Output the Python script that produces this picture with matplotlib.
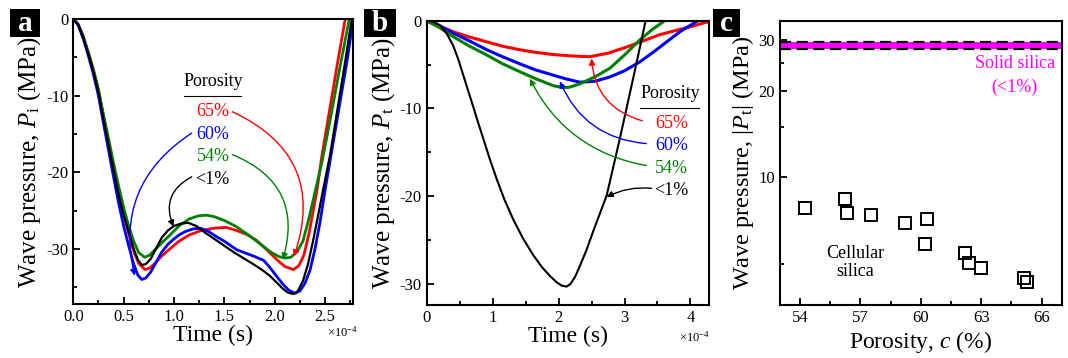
import numpy as np
import matplotlib
matplotlib.use("Agg")
import matplotlib.pyplot as plt
from matplotlib.patches import Rectangle
from matplotlib.ticker import MultipleLocator, FixedLocator, NullFormatter

plt.rcParams['font.family'] = ['Liberation Serif', 'DejaVu Serif']
plt.rcParams['mathtext.fontset'] = 'custom'
plt.rcParams['mathtext.rm'] = 'Liberation Serif'
plt.rcParams['mathtext.it'] = 'Liberation Serif:italic'
plt.rcParams['axes.linewidth'] = 1.5
plt.rcParams['axes.unicode_minus'] = False

# ---- panel a: incident wave pressure (time in 1e-4 s, pressure in MPa)
ta_black = [0, 0.05, 0.10, 0.15, 0.20, 0.25, 0.30, 0.35, 0.40, 0.45, 0.50, 0.55, 0.60, 0.64, 0.68, 0.72, 0.77,
            0.82, 0.88, 0.94, 1.00, 1.07, 1.14, 1.22, 1.30, 1.40, 1.50, 1.60, 1.70, 1.80, 1.88, 1.95, 2.02, 2.08,
            2.13, 2.185, 2.23, 2.28, 2.33, 2.38, 2.43, 2.48, 2.55, 2.62, 2.70, 2.765]
pa_black = [0, -0.8, -2.5, -4.6, -6.9, -9.6, -13.1, -16.4, -19.7, -22.9, -25.6, -27.8, -30.0, -31.4, -32.1,
            -32.0, -31.3, -30.0, -28.5, -27.6, -27.0, -26.7, -26.6, -27.0, -27.8, -28.7, -29.6, -30.5, -31.3,
            -32.1, -32.8, -33.5, -34.4, -35.2, -35.7, -35.9, -35.5, -34.2, -32.0, -29.0, -25.7, -22.3, -17.7,
            -12.0, -5.5, 0]

ta_blue = [0, 0.05, 0.10, 0.15, 0.20, 0.25, 0.30, 0.35, 0.40, 0.45, 0.50, 0.55, 0.60, 0.64, 0.68, 0.72, 0.77,
           0.82, 0.88, 0.94, 1.00, 1.06, 1.12, 1.19, 1.26, 1.34, 1.42, 1.50, 1.62, 1.72, 1.80, 1.89, 1.95, 2.02,
           2.08, 2.14, 2.20, 2.25, 2.30, 2.35, 2.40, 2.45, 2.50, 2.56, 2.64, 2.72, 2.78]
pa_blue = [0, -0.8, -2.6, -4.8, -7.2, -10.0, -13.6, -17.1, -20.6, -24.0, -27.0, -29.6, -32.0, -33.4, -34.0,
           -33.8, -33.0, -31.8, -30.4, -29.4, -28.7, -28.1, -27.7, -27.4, -27.3, -27.7, -28.4, -29.0, -30.1,
           -30.6, -31.0, -31.5, -32.4, -33.6, -34.6, -35.4, -35.8, -35.5, -34.5, -32.8, -30.0, -26.5, -22.3,
           -17.7, -11.5, -5.3, 0]

ta_red = [0, 0.05, 0.10, 0.15, 0.20, 0.25, 0.30, 0.35, 0.40, 0.45, 0.50, 0.55, 0.60, 0.65, 0.71, 0.76, 0.82,
          0.88, 0.96, 1.05, 1.15, 1.27, 1.40, 1.52, 1.62, 1.72, 1.82, 1.92, 2.02, 2.10, 2.185, 2.24, 2.29, 2.34,
          2.38, 2.42, 2.47, 2.55, 2.62, 2.70]
pa_red = [0, -0.7, -2.3, -4.4, -6.6, -9.3, -12.7, -16.0, -19.3, -22.5, -25.4, -28.0, -30.3, -31.9, -32.7,
          -32.5, -31.8, -30.9, -30.0, -29.0, -28.2, -27.6, -27.3, -27.2, -27.6, -28.1, -28.9, -30.1, -31.4,
          -32.3, -32.7, -32.2, -30.8, -28.0, -25.2, -22.3, -17.7, -11.5, -6.0, 0]

ta_green = [0, 0.05, 0.10, 0.15, 0.20, 0.25, 0.30, 0.35, 0.40, 0.45, 0.50, 0.55, 0.60, 0.65, 0.71, 0.76, 0.82,
            0.88, 0.96, 1.05, 1.15, 1.24, 1.32, 1.40, 1.50, 1.62, 1.75, 1.89, 1.97, 2.04, 2.10, 2.16, 2.22, 2.28,
            2.34, 2.40, 2.47, 2.55, 2.64, 2.74]
pa_green = [0, -0.7, -2.3, -4.4, -6.6, -9.2, -12.5, -15.6, -18.8, -21.8, -24.6, -27.0, -29.0, -30.5, -31.1,
            -30.8, -30.0, -29.2, -28.2, -27.0, -26.1, -25.7, -25.6, -25.8, -26.3, -27.1, -28.3, -29.7, -30.5,
            -31.0, -31.2, -31.1, -30.4, -29.0, -26.0, -22.6, -18.6, -13.2, -6.8, 0]

# ---- panel b: transmitted wave pressure
tb_black = [0, 0.10, 0.20, 0.30, 0.40, 0.48, 0.555, 0.63, 0.706, 0.78, 0.857, 0.95, 1.06, 1.18, 1.31, 1.46,
            1.615, 1.75, 1.87, 1.97, 2.05, 2.12, 2.18, 2.25, 2.32, 2.42, 2.52, 2.62, 2.73, 2.93, 3.13, 3.32]
pb_black = [0, -0.1, -0.5, -1.4, -2.8, -4.4, -6.2, -8.0, -9.8, -11.6, -13.4, -15.6, -18.0, -20.4, -22.6,
            -24.8, -26.7, -28.1, -29.1, -29.8, -30.2, -30.3, -30.0, -29.2, -28.0, -26.2, -24.1, -22.1, -19.9,
            -13.4, -6.6, 0]

tb_red = [0, 0.20, 0.40, 0.65, 0.91, 1.15, 1.41, 1.65, 1.92, 2.17, 2.47, 2.75, 3.03, 3.28, 3.53, 3.78, 4.04, 4.27]
pb_red = [0, -0.6, -1.25, -1.85, -2.4, -2.9, -3.3, -3.6, -3.85, -4.0, -4.1, -3.7, -3.0, -2.3, -1.6, -1.1,
          -0.6, -0.1]

tb_blue = [0, 0.20, 0.40, 0.65, 0.91, 1.15, 1.41, 1.65, 1.92, 2.10, 2.32, 2.55, 2.78, 3.00, 3.23, 3.45, 3.64,
           3.85, 4.09]
pb_blue = [0, -0.6, -1.4, -2.3, -3.3, -4.1, -4.9, -5.6, -6.2, -6.6, -7.0, -6.9, -6.4, -5.7, -4.7, -3.5, -2.4,
           -1.2, -0.1]

tb_green = [0, 0.20, 0.40, 0.65, 0.91, 1.15, 1.41, 1.65, 1.92, 2.05, 2.15, 2.32, 2.55, 2.78, 3.00, 3.23, 3.42,
            3.59]
pb_green = [0, -0.8, -1.8, -2.9, -3.9, -4.9, -5.8, -6.6, -7.4, -7.6, -7.6, -7.2, -6.4, -5.4, -3.9, -2.2, -1.0,
            -0.1]

# ---- panel c: peak transmitted pressure vs porosity
porosity = [54.23, 56.24, 56.34, 57.52, 59.22, 60.32, 60.22, 62.2, 62.39, 62.97, 65.13, 65.29]
peak_pt = [7.81, 8.41, 7.5, 7.39, 6.95, 7.18, 5.87, 5.45, 5.03, 4.83, 4.46, 4.34]
solid_band = [28.0, 29.5]

labels = ['65%', '60%', '54%', '<1%']
colors = ['red', 'blue', 'green', 'black']

fig = plt.figure(figsize=(10.68, 3.58), dpi=100)
ax_a = fig.add_axes([0.0686, 0.1508, 0.2622, 0.796])
ax_b = fig.add_axes([0.3995, 0.148, 0.2643, 0.794])
ax_c = fig.add_axes([0.7303, 0.148, 0.2638, 0.794])

for t, p, c in [(ta_red, pa_red, 'red'), (ta_green, pa_green, 'green'),
                (ta_blue, pa_blue, 'blue'), (ta_black, pa_black, 'black')]:
    ax_a.plot(t, p, color=c, lw=2.0 if c != 'black' else 1.6)

for t, p, c in [(tb_red, pb_red, 'red'), (tb_blue, pb_blue, 'blue'),
                (tb_green, pb_green, 'green'), (tb_black, pb_black, 'black')]:
    ax_b.plot(t, p, color=c, lw=2.2 if c != 'black' else 1.5)


def style_time_axis(ax, xmax, major, minor, ymin, fmt):
    ax.set_xlim(0, xmax)
    ax.set_ylim(ymin, 0)
    ax.xaxis.set_major_locator(MultipleLocator(major))
    ax.xaxis.set_minor_locator(MultipleLocator(minor))
    ax.xaxis.set_major_formatter(plt.FuncFormatter(lambda v, pos: fmt.format(v)))
    ax.yaxis.set_major_locator(MultipleLocator(10))
    ax.yaxis.set_minor_locator(MultipleLocator(5))
    ax.tick_params(which='both', direction='in', top=False, right=False, labelsize=12, width=1.3)
    ax.tick_params(which='major', length=5)
    ax.tick_params(which='minor', length=3)
    ax.set_xlabel('Time (s)', fontsize=17, labelpad=0)


style_time_axis(ax_a, 2.78, 0.5, 0.25, -37.2, '{:.1f}')
style_time_axis(ax_b, 4.28, 1, 0.5, -32.4, '{:.0f}')
ax_a.text(0.96, -0.1, r'$\times$10$^{-4}$', transform=ax_a.transAxes, fontsize=9, ha='center', va='center')
ax_b.text(0.95, -0.115, r'$\times$10$^{-4}$', transform=ax_b.transAxes, fontsize=9, ha='center', va='center')
ax_a.set_ylabel(r'Wave pressure, $P_{\rm i}$ (MPa)', fontsize=18, labelpad=2)
ax_b.set_ylabel(r'Wave pressure, $P_{\rm t}$ (MPa)', fontsize=18, labelpad=2)

# annotations panel a
ax_a.text(1.39, -9.3, 'Porosity', fontsize=13, ha='center', va='bottom')
ax_a.plot([1.10, 1.67], [-10.1, -10.1], color='black', lw=0.8)
a_text_y = [-12.1, -15.1, -17.9, -20.9]
a_targets = [(2.19, -31.0), (0.61, -33.5), (2.08, -31.4), (0.995, -27.1)]
a_starts = [(1.58, -12.1), (1.175, -14.9), (1.58, -17.7), (1.175, -20.6)]
a_rads = [-0.45, 0.35, -0.45, 0.45]
for lab, c, ty, tgt, st, rad in zip(labels, colors, a_text_y, a_targets, a_starts, a_rads):
    ax_a.text(1.55, ty, lab, color=c, fontsize=13, ha='right', va='center')
    ax_a.annotate('', xy=tgt, xytext=st,
                  arrowprops=dict(arrowstyle='-|>', color=c, lw=1.0, mutation_scale=9,
                                  shrinkA=0, shrinkB=0, connectionstyle=f'arc3,rad={rad}'))

# annotations panel b
ax_b.text(3.69, -9.3, 'Porosity', fontsize=13, ha='center', va='bottom')
ax_b.plot([3.24, 4.13], [-10.0, -10.0], color='black', lw=0.8)
b_text_y = [-11.7, -14.25, -16.8, -19.3]
b_targets = [(2.5, -4.3), (2.02, -6.9), (1.565, -6.6), (2.73, -20.1)]
b_starts = [(3.27, -11.4), (3.33, -14.0), (3.33, -16.5), (3.41, -19.1)]
b_rads = [-0.35, -0.3, -0.25, 0.15]
for lab, c, ty, tgt, st, rad in zip(labels, colors, b_text_y, b_targets, b_starts, b_rads):
    ax_b.text(3.71, ty, lab, color=c, fontsize=13, ha='center', va='center')
    ax_b.annotate('', xy=tgt, xytext=st,
                  arrowprops=dict(arrowstyle='-|>', color=c, lw=1.0, mutation_scale=9,
                                  shrinkA=0, shrinkB=0, connectionstyle=f'arc3,rad={rad}'))

# panel c
ax_c.set_yscale('log')
ax_c.set_xlim(53, 67)
ax_c.set_ylim(3.6, 35)
ax_c.fill_between([53, 67], solid_band[0], solid_band[1], color='magenta', lw=0)
for yv in solid_band:
    ax_c.axhline(yv, color='black', lw=1.6, ls=(0, (5, 2.5)))
ax_c.plot(porosity, peak_pt, ls='none', marker='s', ms=8, mfc='none', mec='black', mew=1.4)
ax_c.xaxis.set_major_locator(MultipleLocator(3))
ax_c.xaxis.set_minor_locator(MultipleLocator(1.5))
ax_c.yaxis.set_major_locator(FixedLocator([10, 20, 30]))
ax_c.yaxis.set_minor_locator(FixedLocator([5, 15, 25]))
ax_c.yaxis.set_major_formatter(plt.FuncFormatter(lambda v, pos: f'{v:.0f}'))
ax_c.yaxis.set_minor_formatter(NullFormatter())
ax_c.tick_params(which='both', direction='in', top=False, right=False, labelsize=12, width=1.3)
ax_c.tick_params(which='major', length=5)
ax_c.tick_params(which='minor', length=3)
ax_c.set_xlabel(r'Porosity, $c$ (%)', fontsize=17, labelpad=2)
ax_c.set_ylabel(r'Wave pressure, $|P_{\rm t}|$ (MPa)', fontsize=17.5, labelpad=2)
ax_c.text(64.67, 24.9, 'Solid silica', color='magenta', fontsize=13, ha='center', va='center')
ax_c.text(64.67, 20.6, '(<1%)', color='magenta', fontsize=13, ha='center', va='center')
ax_c.text(56.74, 5.05, 'Cellular\nsilica', color='black', fontsize=13, ha='center', va='center',
          linespacing=1.1)

# panel letters in black boxes (pixel positions of the boxes)
W, H = 1068, 358
for x0, w, letter in [(10, 30, 'a'), (364, 32, 'b'), (713, 27, 'c')]:
    fig.patches.append(Rectangle((x0 / W, 1 - 37 / H), w / W, 28 / H, transform=fig.transFigure,
                                 facecolor='black', edgecolor='none'))
    fig.text((x0 + w / 2) / W, 1 - 23.5 / H, letter, color='white', fontsize=21, fontweight='bold',
             ha='center', va='center')

fig.savefig('out.png', dpi=100)
